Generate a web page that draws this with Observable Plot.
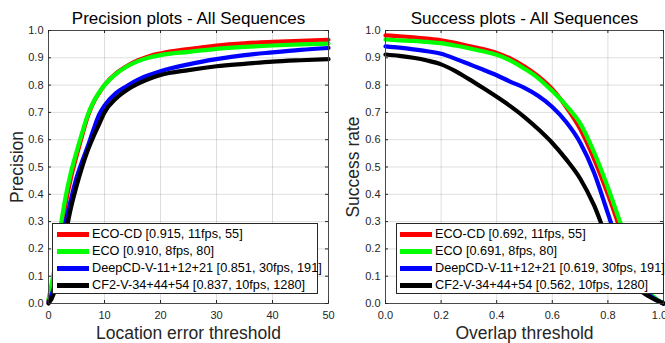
<!DOCTYPE html>
<html><head><meta charset="utf-8">
<script src="https://cdn.jsdelivr.net/npm/d3@7"></script>
<script src="https://cdn.jsdelivr.net/npm/@observablehq/plot@0.6"></script>
<style>
body{margin:0;background:#fff;font-family:"Liberation Sans",Arial,sans-serif;}
#wrap{position:relative;width:665px;height:343px;overflow:hidden;background:#fff;}
.panel{position:absolute;top:0;}
.legend{position:absolute;background:#fff;border:1px solid #262626;box-sizing:border-box;}
.row{position:absolute;height:16px;display:flex;align-items:center;font-size:12.7px;color:#000;white-space:nowrap;}
.sw{display:inline-block;width:32px;height:5px;margin-right:3px;flex:none;}
</style></head><body><div id="wrap"></div>
<script>
// ---- data ----
const seriesNames = ["ECO-CD", "ECO", "DeepCD-V-11+12+21", "CF2-V-34+44+54"];
const seriesColors = ["#ff0000", "#00ff00", "#0000ff", "#000000"];
const precLegend = ["ECO-CD [0.915, 11fps, 55]", "ECO [0.910, 8fps, 80]", "DeepCD-V-11+12+21 [0.851, 30fps, 191]", "CF2-V-34+44+54 [0.837, 10fps, 1280]"];
const succLegend = ["ECO-CD [0.692, 11fps, 55]", "ECO [0.691, 8fps, 80]", "DeepCD-V-11+12+21 [0.619, 30fps, 191]", "CF2-V-34+44+54 [0.562, 10fps, 1280]"];

const precThresholds = [0,1,2,3,4,5,6,7,8,9,10,12,14,16,18,20,25,30,35,40,45,50];
const precEcoCD  = [0.01,0.10,0.24,0.36,0.46,0.54,0.615,0.685,0.735,0.77,0.80,0.842,0.87,0.891,0.906,0.916,0.932,0.945,0.953,0.958,0.962,0.966];
const precEco    = [0.015,0.12,0.26,0.385,0.48,0.555,0.625,0.69,0.737,0.772,0.80,0.84,0.868,0.888,0.901,0.91,0.922,0.933,0.94,0.945,0.949,0.952];
const precDeepCD = [0.005,0.06,0.17,0.29,0.38,0.46,0.52,0.575,0.635,0.69,0.725,0.77,0.797,0.82,0.837,0.851,0.876,0.895,0.91,0.92,0.929,0.936];
const precCF2    = [0.0,0.04,0.14,0.25,0.35,0.43,0.50,0.56,0.61,0.655,0.70,0.75,0.782,0.805,0.823,0.837,0.855,0.869,0.878,0.886,0.891,0.895];

const succThresholds = [0,0.05,0.1,0.15,0.2,0.25,0.3,0.35,0.4,0.45,0.5,0.55,0.6,0.65,0.7,0.75,0.8,0.85,0.9,0.95,1];
const succEcoCD  = [0.982,0.979,0.975,0.970,0.964,0.955,0.943,0.932,0.918,0.897,0.868,0.832,0.785,0.72,0.64,0.53,0.40,0.255,0.115,0.035,0.0];
const succEco    = [0.967,0.964,0.962,0.958,0.954,0.945,0.935,0.924,0.911,0.89,0.86,0.825,0.778,0.725,0.66,0.555,0.425,0.28,0.13,0.04,0.0];
const succDeepCD = [0.942,0.937,0.931,0.924,0.915,0.897,0.877,0.857,0.836,0.812,0.79,0.76,0.72,0.665,0.59,0.48,0.33,0.18,0.08,0.03,0.0];
const succCF2    = [0.912,0.907,0.900,0.890,0.876,0.852,0.822,0.79,0.757,0.722,0.683,0.638,0.588,0.528,0.458,0.36,0.23,0.125,0.06,0.025,0.0];

const yTicks = [0,0.1,0.2,0.3,0.4,0.5,0.6,0.7,0.8,0.9,1];
const precXTicks = [0,10,20,30,40,50];
const succXTicks = [0,0.2,0.4,0.6,0.8,1];

// ---- build ----
const FONT = '"Liberation Sans", Arial, sans-serif';
const H = 343, MT = 30, MB = 40;
const innerH = H - MT - MB;

function rows(xs, cols) {
  const out = [];
  cols.forEach((vals, s) => xs.forEach((x, i) => out.push({series: seriesNames[s], x, y: vals[i]})));
  return out;
}

function panel({data, xDomain, xTicks, title, xLabel, yLabel, width, marginLeft, marginRight, left, yLabelDx, lastTickDx}) {
  const innerW = width - marginLeft - marginRight;
  const tickStroke = "#262626";
  const axisOpts = {tickSize: 0, tickPadding: 8, fontSize: 11, fill: "#262626", label: null};
  const p = Plot.plot({
    width, height: H, marginTop: MT, marginBottom: MB, marginLeft, marginRight,
    style: {background: "transparent", fontFamily: FONT, color: "#262626"},
    x: {domain: xDomain, label: null},
    y: {domain: [0, 1], label: null},
    color: {domain: seriesNames, range: seriesColors},
    marks: [
      Plot.gridX(xTicks, {stroke: "#000", strokeOpacity: 0.13}),
      Plot.gridY(yTicks, {stroke: "#000", strokeOpacity: 0.13}),
      Plot.line(data, {x: "x", y: "y", z: "series", stroke: "series", strokeWidth: 4.2, curve: "monotone-x"}),
      Plot.frame({stroke: "#4a4a4a", strokeWidth: 1}),
      Plot.tickX(xTicks, {x: d => d, insetTop: innerH - 3, stroke: tickStroke}),
      Plot.tickX(xTicks, {x: d => d, insetBottom: innerH - 3, stroke: tickStroke}),
      Plot.tickY(yTicks, {y: d => d, insetRight: innerW - 3, stroke: tickStroke}),
      Plot.tickY(yTicks, {y: d => d, insetLeft: innerW - 3, stroke: tickStroke}),
      Plot.axisX(xTicks.slice(0, -1), axisOpts),
      Plot.axisX(xTicks.slice(-1), {...axisOpts, dx: lastTickDx}),
      Plot.axisY(yTicks, {tickSize: 0, tickPadding: 5, fontSize: 11, fill: "#262626", label: null}),
      Plot.text([title], {text: d => d, frameAnchor: "top", lineAnchor: "middle", textAnchor: "middle", dy: -12, fontSize: 17, fill: "#000"}),
      Plot.text([xLabel], {text: d => d, frameAnchor: "bottom", lineAnchor: "middle", textAnchor: "middle", dy: 29.5, fontSize: 17.5, fill: "#262626"}),
      Plot.text([yLabel], {text: d => d, frameAnchor: "left", lineAnchor: "middle", textAnchor: "middle", dx: yLabelDx, rotate: -90, fontSize: 17.5, fill: "#262626"})
    ]
  });
  const div = document.createElement("div");
  div.className = "panel";
  div.style.left = left + "px";
  div.appendChild(p);
  return div;
}

function legend(labels, box, swLeft) {
  const lg = document.createElement("div");
  lg.className = "legend";
  Object.assign(lg.style, {left: box.left + "px", top: box.top + "px", width: box.width + "px", height: box.height + "px"});
  labels.forEach((t, i) => {
    const r = document.createElement("div");
    r.className = "row";
    r.style.left = swLeft + "px";
    r.style.top = (2 + i * 17) + "px";
    const sw = document.createElement("span");
    sw.className = "sw";
    sw.style.background = seriesColors[i];
    r.appendChild(sw);
    r.appendChild(document.createTextNode(t));
    lg.appendChild(r);
  });
  return lg;
}

const wrap = document.getElementById("wrap");
wrap.appendChild(panel({
  data: rows(precThresholds, [precEcoCD, precEco, precDeepCD, precCF2]),
  xDomain: [0, 50], xTicks: precXTicks,
  title: "Precision plots - All Sequences", xLabel: "Location error threshold", yLabel: "Precision",
  width: 335, marginLeft: 48, marginRight: 7, left: 0, yLabelDx: -31, lastTickDx: 0
}));
wrap.appendChild(panel({
  data: rows(succThresholds, [succEcoCD, succEco, succDeepCD, succCF2]),
  xDomain: [0, 1], xTicks: succXTicks,
  title: "Success plots - All Sequences", xLabel: "Overlap threshold", yLabel: "Success rate",
  width: 330, marginLeft: 50, marginRight: 2, left: 335, yLabelDx: -32, lastTickDx: -4
}));
wrap.appendChild(legend(precLegend, {left: 52, top: 223, width: 266, height: 71}, 4));
wrap.appendChild(legend(succLegend, {left: 396, top: 223, width: 268, height: 71}, 3));
</script></body></html>
